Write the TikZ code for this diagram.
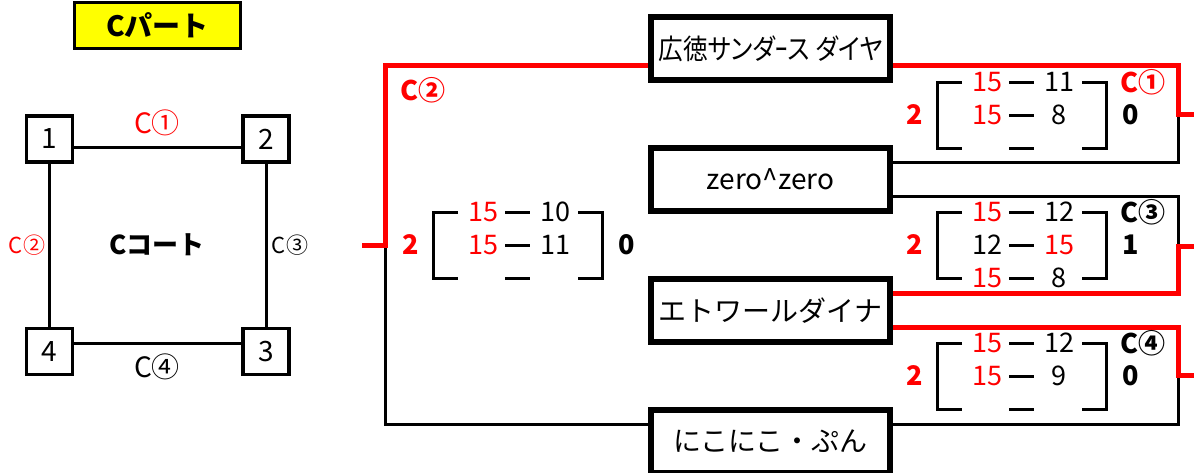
\documentclass[tikz,border=0pt]{standalone}
\usepackage{fontspec}
\setmainfont{Noto Sans CJK JP}
\newfontfamily\jpprop[RawFeature=+palt]{Noto Sans CJK JP}
\usepackage{tikz}
\usetikzlibrary{positioning,calc}
\definecolor{winred}{RGB}{255,0,0}
\definecolor{partyellow}{RGB}{255,255,0}
\newcommand{\wpt}[1]{\textcolor{winred}{#1}}

\begin{document}
\begin{tikzpicture}[x=1pt, y=-1pt,
		team/.style={draw, line width=5.5pt, minimum width=239pt, minimum height=63pt, inner sep=0pt, font=\fontsize{28}{28}\selectfont},
		seat/.style={draw, line width=3.5pt, minimum size=46pt, inner sep=0pt, font=\fontsize{28}{28}\selectfont},
		pts/.style={inner sep=0pt, font=\fontsize{27}{27}\selectfont},
		tot/.style={inner sep=0pt, font=\fontsize{27}{27}\selectfont\bfseries},
		win/.style={line width=5pt, winred},
		lose/.style={line width=3pt},
		rule/.style={line width=3pt}]
				\useasboundingbox (0,0) rectangle (1194,472);
				
				% court
				\node [draw, line width=3pt, fill=partyellow, minimum width=166pt, minimum height=46pt, font=\fontsize{28}{28}\selectfont\bfseries] (part) at (157.5,25.5) {Cパート};
				\node [seat] (seat1) at (49.5,139) {1};
				\node [seat, right=167pt of seat1] (seat2) {2};
				\node [seat, below=163pt of seat1] (seat4) {4};
				\node [seat, right=167pt of seat4] (seat3) {3};
				\draw [rule] ([yshift=-8pt]seat1.east) -- ([yshift=-8pt]seat2.west);
				\draw [rule] (seat1) -- (seat4);
				\draw [rule] (seat2) -- (seat3);
				\draw [rule] ([yshift=8pt]seat4.east) -- ([yshift=8pt]seat3.west);
				\node [winred, font=\fontsize{28}{28}\selectfont] (lab1) at (157,123) {C①};
				\node [winred, font=\fontsize{22}{22}\selectfont] (lab2) at (27,245) {C②};
				\node [font=\fontsize{22}{22}\selectfont] (lab3) at (290,245) {C③};
				\node [font=\fontsize{28}{28}\selectfont] (lab4) at (157,367) {C④};
				\node [font=\fontsize{26}{26}\selectfont\bfseries] (court) at (157,245) {Cコート};
				
				% teams
				\node [team] (hirotoku) at (770.5,48.5) {\scalebox{0.88}[1]{\jpprop 広徳サンダｰス ダイヤ}};
				\node [team, below=62.5pt of hirotoku] (zero) {zero\textasciicircum zero};
				\node [team, below=62.5pt of zero] (etoile) {エトワールダイナ};
				\node [team, below=62.5pt of etoile] (nikoniko) {にこにこ・ぷん};
				
				% brackets
				\coordinate (jB) at (385,245);
				\coordinate (jBout) at (362,245);
				\coordinate (jA) at (1178,114);
				\coordinate (jAout) at (1194,114);
				\coordinate (jC) at (1178,246);
				\coordinate (jCout) at (1194,246);
				\coordinate (jD) at (1178,375.5);
				\coordinate (jDout) at (1194,375.5);
				\draw [lose] ($(nikoniko.west)!0.5!(nikoniko.north west)$) -| (jB);
				\draw [win] ($(hirotoku.west)!0.5!(hirotoku.south west)$) -| (jB) -- (jBout);
				\draw [lose] ($(zero.east)!0.5!(zero.north east)$) -| (jA);
				\draw [win] ($(hirotoku.east)!0.5!(hirotoku.south east)$) -| (jA) -- (jAout);
				\draw [lose] ($(zero.east)!0.5!(zero.south east)$) -| (jC);
				\draw [win] ($(etoile.east)!0.5!(etoile.north east)$) -| (jC) -- (jCout);
				\draw [lose] ($(nikoniko.east)!0.5!(nikoniko.north east)$) -| (jD);
				\draw [win] ($(etoile.east)!0.5!(etoile.south east)$) -| (jD) -- (jDout);
				
				% scores
				\foreach \blk/\L/\T/\pa/\pb/\pc/\pd/\pe/\pf/\wn/\ls in {
					scB/433/212/\wpt{15}/10/\wpt{15}/11/{}/{}/2/0,
					scA/937/82/\wpt{15}/11/\wpt{15}/8/{}/{}/2/0,
					scC/937/212/\wpt{15}/12/12/\wpt{15}/\wpt{15}/8/2/1,
					scD/937/343/\wpt{15}/12/\wpt{15}/9/{}/{}/2/0}
				{
					\draw [rule] (\L+25,\T) -- (\L,\T) -- (\L,\T+66) -- (\L+25,\T+66);
					\draw [rule] (\L+145,\T) -- (\L+169,\T) -- (\L+169,\T+66) -- (\L+145,\T+66);
					\foreach \r in {0,1,2}
						\draw [rule] (\L+72,\T+\r*33) -- ++(25,0);
					\node [pts] (\blk a1) at (\L+50,\T) {\pa};
					\node [pts] (\blk b1) at (\L+122,\T) {\pb};
					\node [pts] (\blk a2) at (\L+50,\T+33) {\pc};
					\node [pts] (\blk b2) at (\L+122,\T+33) {\pd};
					\node [pts] (\blk a3) at (\L+50,\T+66) {\pe};
					\node [pts] (\blk b3) at (\L+122,\T+66) {\pf};
					\node [tot, winred] (\blk w) at (\L-22,\T+33) {\wn};
					\node [tot] (\blk l) at (\L+194,\T+33) {\ls};
				}
				\node [tot, winred] (gameB) at (423,90) {C②};
				\node [tot, winred] (gameA) at (1143,82) {C①};
				\node [tot] (gameC) at (1143,212) {C③};
				\node [tot] (gameD) at (1143,343) {C④};
			\end{tikzpicture}
\end{document}
